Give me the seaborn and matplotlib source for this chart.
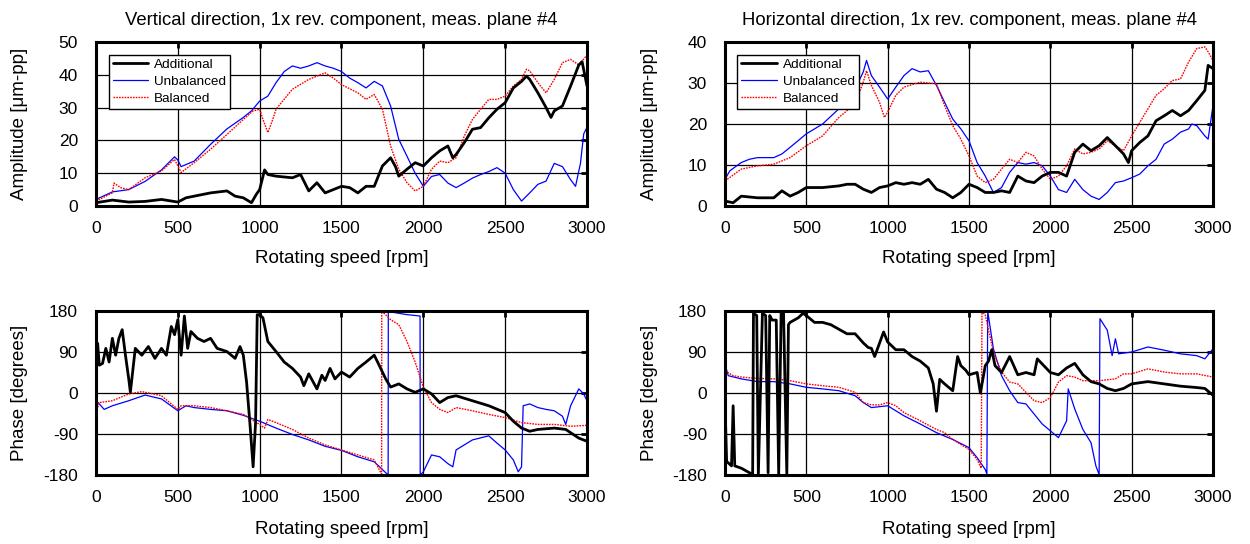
import numpy as np
import pandas as pd
import matplotlib
matplotlib.use("Agg")
import matplotlib.pyplot as plt
import seaborn as sns

sns.set_style("white")
plt.rcParams['font.family'] = ['Liberation Sans', 'DejaVu Sans']
plt.rcParams['axes.unicode_minus'] = False
plt.rcParams['text.color'] = 'black'
plt.rcParams['axes.labelcolor'] = 'black'
plt.rcParams['xtick.color'] = 'black'
plt.rcParams['ytick.color'] = 'black'

# ---------------- Data: Vertical amplitude ----------------
va_unb_rpm = [0, 100, 200, 300, 400, 450, 480, 500, 520, 600, 700, 800, 900, 950, 1000, 1050, 1100, 1150, 1200, 1250, 1300, 1350, 1400, 1450, 1500, 1550, 1600, 1650, 1700, 1750, 1800, 1850, 1900, 1950, 2000, 2050, 2100, 2150, 2200, 2250, 2300, 2350, 2400, 2450, 2500, 2550, 2600, 2650, 2700, 2750, 2800, 2850, 2900, 2930, 2960, 2980, 3000]
va_unb = [2, 4.3, 5, 7.5, 11, 13.5, 15, 14, 12, 13.7, 18.8, 23.5, 27, 29, 32, 33.5, 37.6, 41, 42.7, 42, 42.7, 43.7, 42.7, 42, 41, 39, 37.6, 36, 38, 36.6, 30.5, 20.3, 15.2, 10, 6, 9, 9.6, 7, 5.6, 7, 8.5, 9.6, 10.5, 11.7, 10, 5, 1.5, 4, 6.6, 7.6, 13, 12, 8, 6, 13, 22, 24]

va_bal_rpm = [0, 100, 110, 150, 200, 300, 400, 480, 520, 600, 700, 800, 900, 960, 1000, 1020, 1050, 1080, 1100, 1200, 1300, 1400, 1450, 1500, 1600, 1650, 1700, 1750, 1800, 1850, 1900, 1950, 2000, 2050, 2100, 2150, 2200, 2250, 2300, 2350, 2400, 2450, 2500, 2550, 2600, 2630, 2650, 2700, 2750, 2800, 2850, 2900, 2950, 3000]
va_bal = [1.5, 4, 7, 5.6, 5, 8.6, 10.7, 14.2, 10.2, 13.2, 17.3, 21.8, 26.4, 29, 29.5, 26.4, 22.4, 26.4, 29.5, 35.6, 38.6, 40.6, 39, 37, 34.5, 32.5, 34, 29.5, 18.3, 11.2, 7.1, 4.6, 6, 11.2, 13.7, 13.2, 14.7, 21.3, 26.4, 29.5, 32.5, 32.5, 33.5, 36.6, 38.6, 41.7, 41.2, 37.6, 34.5, 38.6, 43.7, 44.7, 43, 46]

va_add_rpm = [0, 100, 200, 300, 400, 500, 550, 600, 700, 800, 850, 900, 950, 980, 1000, 1030, 1050, 1100, 1200, 1250, 1300, 1350, 1400, 1450, 1500, 1550, 1600, 1650, 1700, 1750, 1800, 1830, 1850, 1900, 1950, 2000, 2050, 2100, 2150, 2180, 2200, 2250, 2300, 2350, 2400, 2450, 2500, 2550, 2600, 2630, 2650, 2700, 2750, 2780, 2800, 2850, 2900, 2950, 2970, 3000]
va_add = [1, 1.8, 1.2, 1.4, 2, 1.2, 2.5, 3, 4, 4.6, 3, 2.5, 1, 3.6, 5, 11, 9.6, 9.1, 8.6, 9.6, 4.6, 7.1, 4, 5, 6, 5.6, 4, 6, 6, 12.2, 14.7, 12, 9.1, 11.2, 13.2, 12.2, 14.7, 16.8, 18.3, 14.7, 15.7, 19.3, 23.4, 23.9, 26.9, 29.5, 31.5, 36, 38, 39.6, 38.6, 34.5, 30, 27, 29, 30.5, 36.6, 43, 44, 36.6]

# ---------------- Data: Horizontal amplitude ----------------
ha_unb_rpm = [0, 30, 100, 150, 200, 300, 350, 400, 500, 600, 700, 750, 800, 850, 870, 900, 950, 1000, 1050, 1100, 1150, 1200, 1250, 1300, 1350, 1400, 1450, 1500, 1550, 1600, 1650, 1700, 1750, 1800, 1850, 1900, 1950, 2000, 2050, 2100, 2150, 2200, 2250, 2300, 2350, 2400, 2450, 2500, 2550, 2600, 2650, 2700, 2750, 2800, 2850, 2870, 2900, 2950, 2970, 3000]
ha_unb = [6.5, 8.6, 10.6, 11.4, 11.8, 11.8, 12.7, 14.3, 17.6, 20, 23.7, 26.1, 28.6, 32.7, 35.5, 31.8, 29, 26.1, 29, 31.8, 33.5, 32.7, 33, 29.4, 25.3, 21.2, 18.8, 15.9, 10.6, 7.3, 3.3, 4.5, 8.2, 10.6, 10.2, 10.6, 9.8, 7.3, 4, 3.3, 6.5, 4, 2.4, 1.6, 3.3, 5.7, 6.1, 6.9, 7.8, 9.8, 11.4, 15.1, 16.3, 18, 18.8, 20, 19.6, 17.1, 16.3, 24.5]

ha_bal_rpm = [0, 100, 200, 300, 400, 500, 600, 700, 800, 850, 870, 900, 950, 980, 1000, 1050, 1100, 1200, 1300, 1350, 1400, 1450, 1500, 1550, 1600, 1650, 1700, 1750, 1800, 1850, 1900, 1950, 2000, 2050, 2100, 2150, 2200, 2250, 2300, 2350, 2400, 2450, 2500, 2550, 2600, 2650, 2700, 2750, 2800, 2850, 2900, 2950, 2970, 3000]
ha_bal = [6.1, 9, 9.8, 10.2, 11.8, 14.7, 17.1, 21.6, 24.9, 30.2, 33, 29.4, 25.3, 21.6, 22.9, 27, 29, 30.2, 29.8, 24.5, 19.6, 16.3, 12.2, 7.3, 5.7, 6.5, 9, 11.4, 10.6, 13.1, 12.2, 9, 6.5, 7.3, 9.8, 13.9, 12.7, 13.1, 13.9, 15.9, 14.7, 13.5, 17.1, 20.4, 23.7, 27, 28.6, 30.6, 31, 35.1, 38.4, 38.8, 37.6, 35.5]

ha_add_rpm = [0, 50, 100, 200, 300, 350, 400, 450, 500, 600, 700, 750, 800, 850, 900, 950, 1000, 1050, 1100, 1150, 1200, 1250, 1300, 1350, 1400, 1450, 1500, 1550, 1600, 1650, 1700, 1750, 1800, 1850, 1900, 1950, 2000, 2050, 2100, 2150, 2200, 2250, 2300, 2350, 2400, 2450, 2480, 2500, 2550, 2600, 2650, 2700, 2750, 2800, 2850, 2900, 2950, 2970, 3000]
ha_add = [1.2, 0.8, 2.4, 2, 2, 3.7, 2.4, 3.3, 4.5, 4.5, 4.9, 5.3, 5.3, 4.1, 3.3, 4.5, 4.9, 5.7, 5.3, 5.7, 5.3, 6.5, 4.1, 3.3, 2, 3.3, 5.3, 4.5, 3.3, 3.3, 3.7, 3.3, 7.3, 6.1, 5.7, 7.3, 8.2, 8.2, 7.3, 13.1, 15.1, 13.5, 14.7, 16.7, 14.7, 12.7, 10.6, 13.5, 15.5, 17.1, 20.8, 22, 23.3, 22, 23.3, 25.7, 28.2, 34.3, 33.5]

# ---------------- Data: Vertical phase ----------------
vp_add_rpm = [0, 10, 20, 40, 60, 80, 100, 120, 140, 160, 180, 200, 210, 240, 280, 320, 360, 400, 430, 460, 480, 500, 520, 540, 560, 580, 620, 660, 700, 740, 800, 850, 880, 900, 920, 940, 960, 975, 985, 1000, 1020, 1050, 1100, 1150, 1200, 1250, 1270, 1300, 1350, 1380, 1400, 1430, 1460, 1500, 1550, 1600, 1650, 1700, 1730, 1770, 1800, 1850, 1900, 1950, 2000, 2050, 2100, 2150, 2200, 2300, 2400, 2500, 2550, 2600, 2650, 2700, 2800, 2870, 2950, 3000]
vp_add = [68, 109, 61, 65, 98, 68, 120, 83, 120, 139, 83, 31, 1.5, 98, 83, 102, 76, 98, 83, 146, 128, 161, 83, 169, 98, 135, 120, 113, 120, 98, 91, 76, 102, 83, 24, -65, -162, -65, 172, 172, 165, 113, 91, 68, 54, 35, 16, 42, 9, 39, 27.5, 54, 31, 46, 35, 54, 68, 83, 61, 31, 13, 20, 9, 1.5, 9, -2, -21, -10, -6, -17, -28, -43, -62, -77, -84, -80, -77, -80, -99, -106]

vp_bal_rpm = [0, 20, 100, 200, 280, 350, 400, 500, 520, 600, 700, 800, 900, 1000, 1030, 1050, 1100, 1200, 1300, 1400, 1500, 1600, 1700, 1745, 1746, 1800, 1850, 1900, 1950, 2000, 2050, 2100, 2150, 2200, 2300, 2400, 2500, 2600, 2700, 2800, 2900, 3000]
vp_bal = [-43, -21, -17, -2, 3, -2, -6, -36, -28, -28, -32, -39, -47, -69, -77, -58, -65, -80, -99, -114, -125, -136, -147, -178, 180, 161, 150, 113, 68, 13, -21, -36, -43, -32, -39, -47, -54, -65, -69, -69, -73, -71]

vp_unb_rpm = [0, 10, 50, 100, 200, 300, 400, 500, 550, 600, 700, 800, 900, 1000, 1100, 1200, 1300, 1400, 1500, 1600, 1700, 1785, 1786, 1800, 1900, 1980, 1981, 2000, 2050, 2100, 2150, 2180, 2200, 2300, 2400, 2450, 2500, 2550, 2580, 2600, 2610, 2650, 2700, 2750, 2800, 2850, 2870, 2900, 2950, 2980, 3000]
vp_unb = [-43, -20, -36, -28, -17, -4.5, -13, -39, -28, -32, -36, -39, -49, -62, -77, -91, -103, -117, -126, -140, -151, -180, 180, 178, 172, 169, -180, -173, -136, -140, -155, -162, -125, -103, -94, -110, -125, -147, -173, -162, -28, -24, -32, -36, -39, -51, -69, -28, 9, -2, -17]

# ---------------- Data: Horizontal phase ----------------
hp_add_rpm = [0, 10, 40, 50, 60, 100, 150, 170, 175, 195, 205, 230, 250, 265, 275, 290, 300, 315, 330, 345, 360, 380, 390, 400, 450, 480, 500, 550, 600, 650, 700, 750, 800, 850, 880, 900, 920, 975, 1000, 1050, 1100, 1150, 1200, 1250, 1280, 1300, 1320, 1350, 1400, 1430, 1450, 1480, 1500, 1550, 1570, 1600, 1620, 1640, 1660, 1700, 1750, 1800, 1850, 1900, 1920, 2000, 2050, 2100, 2150, 2200, 2250, 2300, 2350, 2400, 2450, 2500, 2600, 2700, 2800, 2900, 2950, 3000]
hp_add = [-20, -150, -160, -28, -160, -165, -175, -178, 175, 170, -180, 175, 170, -175, 170, 160, 160, 160, -178, 175, 175, -180, 150, 155, 165, 175, 170, 155, 155, 150, 140, 130, 130, 110, 100, 98, 80, 134, 112, 95, 95, 80, 70, 55, 20, -40, 30, 20, 5, 80, 60, 50, 40, 45, 0, 60, 70, 95, 60, 45, 80, 40, 45, 40, 75, 45, 40, 55, 65, 40, 25, 20, 10, 5, 10, 20, 25, 20, 15, 12, 10, -5]

hp_bal_rpm = [0, 50, 100, 200, 300, 400, 500, 600, 700, 800, 850, 900, 950, 1000, 1050, 1100, 1200, 1300, 1350, 1400, 1450, 1500, 1550, 1575, 1580, 1600, 1650, 1700, 1750, 1800, 1850, 1900, 1950, 2000, 2050, 2100, 2150, 2200, 2250, 2300, 2400, 2450, 2500, 2600, 2700, 2800, 2900, 3000]
hp_bal = [49, 38, 35, 32, 31, 27, 20, 16, 12.5, 1.5, -21, -26, -26, -21, -28, -43, -61, -80, -87, -102, -113, -124, -146, -165, 180, 171, 90, 46, 24, 20, 1.5, -17, -21, -10, 24, 38, 35, 27, 27, 27, 31, 42, 42, 53, 46, 42, 42, 35]

hp_unb_rpm = [0, 5, 20, 100, 200, 300, 400, 500, 600, 700, 800, 850, 900, 1000, 1100, 1200, 1300, 1400, 1500, 1550, 1600, 1610, 1615, 1650, 1700, 1750, 1800, 1850, 1900, 1950, 2000, 2050, 2100, 2110, 2150, 2200, 2250, 2280, 2300, 2305, 2350, 2380, 2400, 2420, 2500, 2600, 2700, 2800, 2900, 2950, 3000]
hp_unb = [45, 57, 38, 31, 25, 25, 20, 12.5, 9, 5, -6, -21, -32, -28, -50, -68, -87, -102, -120, -142, -168, -178, 180, 97, 38, 5, -21, -24, -46, -68, -83, -98, -61, 9, -35, -80, -109, -160, -179, 163, 138, 82, 119, 86, 90, 101, 94, 86, 82, 75, 97]

# ---------------- Styles ----------------
names = ["Additional", "Unbalanced", "Balanced"]
colors = {"Additional": "black", "Unbalanced": "#0000ff", "Balanced": "#ff0000"}
lws = {"Additional": 2.0, "Unbalanced": 0.9, "Balanced": 1.0}
lss = {"Additional": "-", "Unbalanced": "-", "Balanced": (0, (1.2, 0.8))}

fig = plt.figure(figsize=(12.5, 5.44), dpi=100)
W, H = 1250, 544
def ax_at(x0, x1, y0, y1):
    return fig.add_axes([x0 / W, 1 - y1 / H, (x1 - x0) / W, (y1 - y0) / H])

ax_tl = ax_at(96, 587, 42, 206)
ax_tr = ax_at(725, 1213, 42, 206)
ax_bl = ax_at(96, 587, 311, 475)
ax_br = ax_at(725, 1213, 311, 475)

panels = [
    (ax_tl, {"Unbalanced": (va_unb_rpm, va_unb), "Balanced": (va_bal_rpm, va_bal), "Additional": (va_add_rpm, va_add)}),
    (ax_tr, {"Unbalanced": (ha_unb_rpm, ha_unb), "Balanced": (ha_bal_rpm, ha_bal), "Additional": (ha_add_rpm, ha_add)}),
    (ax_bl, {"Unbalanced": (vp_unb_rpm, vp_unb), "Balanced": (vp_bal_rpm, vp_bal), "Additional": (vp_add_rpm, vp_add)}),
    (ax_br, {"Unbalanced": (hp_unb_rpm, hp_unb), "Balanced": (hp_bal_rpm, hp_bal), "Additional": (hp_add_rpm, hp_add)}),
]

x_ticks = [0, 500, 1000, 1500, 2000, 2500, 3000]

for ax, series in panels:
    ax.set_axisbelow(True)
    ax.grid(True, color="black", linewidth=0.9)
    for name in ["Unbalanced", "Balanced", "Additional"]:
        xs, ys = series[name]
        df = pd.DataFrame({"rpm": xs, "val": ys})
        sns.lineplot(data=df, x="rpm", y="val", ax=ax, estimator=None, sort=False,
                     color=colors[name], linewidth=lws[name], linestyle=lss[name],
                     label=name, legend=False)
    ax.set_xlim(0, 3000)
    ax.set_xticks(x_ticks)
    ax.set_xlabel("Rotating speed [rpm]", fontsize=13.5, color="black")
    for s in ax.spines.values():
        s.set_linewidth(2.2)
        s.set_color("black")
    ax.tick_params(axis="both", which="major", direction="in", length=4, width=2,
                   labelsize=12.5, top=True, right=True, colors="black")
    ax.tick_params(axis="x", pad=11)
    ax.tick_params(axis="y", pad=13)

ax_tl.set_ylim(0, 50)
ax_tl.set_yticks([0, 10, 20, 30, 40, 50])
ax_tr.set_ylim(0, 40)
ax_tr.set_yticks([0, 10, 20, 30, 40])
for ax in (ax_bl, ax_br):
    ax.set_ylim(-180, 180)
    ax.set_yticks([-180, -90, 0, 90, 180])
    ax.set_ylabel("Phase [degrees]", fontsize=13.5, color="black")
for ax in (ax_tl, ax_tr):
    ax.set_ylabel("Amplitude [\u03bcm-pp]", fontsize=13.5, color="black")

# label placement (axes fraction)
ax_tl.xaxis.set_label_coords(0.5, -0.268)
ax_tr.xaxis.set_label_coords(0.5, -0.268)
ax_bl.xaxis.set_label_coords(0.5, -0.28)
ax_br.xaxis.set_label_coords(0.5, -0.28)
for ax in (ax_tl, ax_bl):
    ax.yaxis.set_label_coords(-0.139, 0.5)
for ax in (ax_tr, ax_br):
    ax.yaxis.set_label_coords(-0.138, 0.5)

ax_tl.set_title("Vertical direction, 1x rev. component, meas. plane #4", fontsize=13.3, pad=12, color="black")
ax_tr.set_title("Horizontal direction, 1x rev. component, meas. plane #4", fontsize=13.3, pad=12, color="black")

for ax in (ax_tl, ax_tr):
    handles, labels = ax.get_legend_handles_labels()
    order = [labels.index(n) for n in names]
    leg = ax.legend([handles[i] for i in order], [labels[i] for i in order],
                    loc="upper left", bbox_to_anchor=(0.02, 0.94), fontsize=9.7,
                    frameon=True, fancybox=False, edgecolor="black", framealpha=1,
                    handlelength=2.6, handletextpad=0.5, borderpad=0.3, labelspacing=0.33,
                    borderaxespad=0.2)
    leg.get_frame().set_linewidth(1.0)
    for t in leg.get_texts():
        t.set_color("black")

fig.savefig("out.png", dpi=100)
